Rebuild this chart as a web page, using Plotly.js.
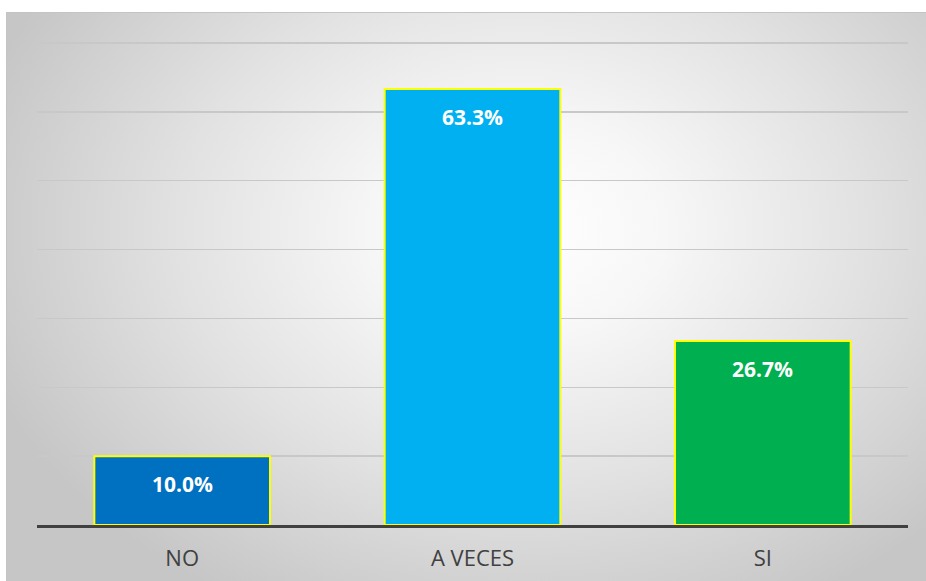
<!DOCTYPE html>
<html>
<head>
<meta charset="utf-8">
<script src="https://cdn.plot.ly/plotly-3.0.1.min.js"></script>
<style>
  html, body { margin: 0; padding: 0; width: 926px; height: 581px; background: #ffffff; overflow: hidden; }
  #frame {
    position: absolute; left: 6px; top: 12px; width: 919px; height: 568px;
    border: 1px solid #c4c4c4;
    background: radial-gradient(ellipse 62% 75% at 56% 38%, #ffffff 0%, #f7f7f7 25%, #e2e2e2 60%, #c6c6c6 100%);
  }
  #chart { position: absolute; left: 0; top: 0; width: 919px; height: 568px; }
</style>
</head>
<body>
<div id="frame"><div id="chart"></div></div>
<script>
const categories = ["NO", "A VECES", "SI"];
const values = [10.0, 63.3, 26.7];
const barColors = ["#0070C0", "#00B0F0", "#00B050"];

const trace = {
  type: "bar",
  x: categories,
  y: values,
  width: 0.605,
  marker: { color: barColors, line: { color: "#FFFF00", width: 2 } },
  hoverinfo: "none"
};

const annotations = categories.map((c, i) => ({
  x: c, y: values[i], xref: "x", yref: "y",
  text: "<b>" + values[i].toFixed(1) + "%</b>",
  showarrow: false, yanchor: "middle", yshift: -28,
  font: { family: "Open Sans, Noto Sans, sans-serif", size: 21, color: "#ffffff" }
}));

const layout = {
  width: 919, height: 568,
  margin: { l: 30, r: 18, t: 23, b: 56 },
  paper_bgcolor: "rgba(0,0,0,0)",
  plot_bgcolor: "rgba(0,0,0,0)",
  showlegend: false,
  xaxis: {
    showgrid: false, zeroline: false,
    showline: true, linecolor: "#404040", linewidth: 3,
    ticks: "", ticklabelstandoff: 12,
    tickfont: { family: "Open Sans, Noto Sans, sans-serif", size: 22, color: "#404040" },
    fixedrange: true
  },
  yaxis: {
    range: [0, 71], tickvals: [10, 20, 30, 40, 50, 60, 70], showticklabels: false,
    showgrid: true, gridcolor: "#c8c8c8", gridwidth: 1.5,
    zeroline: false, showline: false, ticks: "", fixedrange: true
  },
  annotations: annotations
};

Plotly.newPlot("chart", [trace], layout, { displayModeBar: false, staticPlot: true });
</script>
</body>
</html>
